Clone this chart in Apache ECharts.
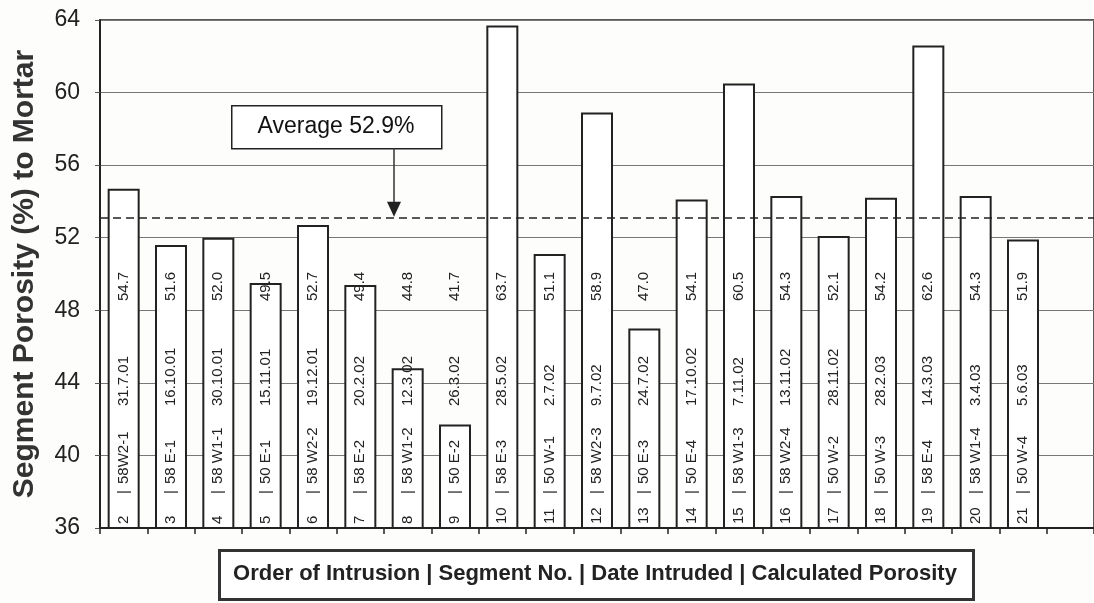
<!DOCTYPE html>
<html>
<head>
<meta charset="utf-8">
<script src="https://cdn.jsdelivr.net/npm/echarts@6/dist/echarts.min.js"></script>
<style>
  html, body { margin: 0; padding: 0; background: #fdfdfb; }
  #chart { width: 1094px; height: 603px; }
</style>
</head>
<body>
<div id="chart"></div>
<script>
const FONT = '"Liberation Sans", Arial, sans-serif';

// order of intrusion, segment, date, porosity (%)
const orders = ['2', '3', '4', '5', '6', '7', '8', '9', '10', '11', '12', '13', '14', '15', '16', '17', '18', '19', '20', '21'];
const segments = ['58W2-1', '58 E-1', '58 W1-1', '50 E-1', '58 W2-2', '58 E-2', '58 W1-2', '50 E-2', '58 E-3', '50 W-1',
  '58 W2-3', '50 E-3', '50 E-4', '58 W1-3', '58 W2-4', '50 W-2', '50 W-3', '58 E-4', '58 W1-4', '50 W-4'];
const dates = ['31.7.01', '16.10.01', '30.10.01', '15.11.01', '19.12.01', '20.2.02', '12.3.02', '26.3.02', '28.5.02', '2.7.02',
  '9.7.02', '24.7.02', '17.10.02', '7.11.02', '13.11.02', '28.11.02', '28.2.03', '14.3.03', '3.4.03', '5.6.03'];
const porosity = [54.7, 51.6, 52.0, 49.5, 52.7, 49.4, 44.8, 41.7, 63.7, 51.1,
  58.9, 47.0, 54.1, 60.5, 54.3, 52.1, 54.2, 62.6, 54.3, 51.9];

const yMin = 36, yMax = 64, yStep = 4;
const averageText = 'Average 52.9%';
const averageLevel = 53.1; // where the dashed line sits on the chart
const legendText = 'Order of Intrusion | Segment No. | Date Intruded | Calculated Porosity';

// one empty slot at the right end, as in the original sheet
const categories = orders.concat(['']);

const chart = echarts.init(document.getElementById('chart'));

const lbl = { fontFamily: FONT, fontSize: 15, color: '#222' };

chart.setOption({
  backgroundColor: '#fdfdfb',
  animation: false,
  grid: {
    left: 100, top: 20, width: 998, bottom: 75,
    show: true, borderColor: '#222', borderWidth: 1.5, backgroundColor: 'transparent'
  },
  xAxis: {
    type: 'category',
    data: categories,
    boundaryGap: true,
    axisLine: { lineStyle: { color: '#222', width: 2 } },
    axisTick: { show: true, length: 6, lineStyle: { color: '#222', width: 1.5 } },
    axisLabel: { show: false },
    splitLine: { show: false }
  },
  yAxis: {
    type: 'value',
    min: yMin, max: yMax, interval: yStep,
    name: 'Segment Porosity (%) to Mortar',
    nameLocation: 'middle',
    nameGap: 60,
    nameTextStyle: { fontFamily: FONT, fontSize: 30, fontWeight: 'bold', color: '#333' },
    axisLine: { show: true, lineStyle: { color: '#222', width: 2 } },
    axisTick: { show: true, length: 5, lineStyle: { color: '#555' } },
    axisLabel: { fontFamily: FONT, fontSize: 23, color: '#222', margin: 20 },
    splitLine: { lineStyle: { color: '#777', width: 1 } }
  },
  series: [{
    type: 'bar',
    data: porosity,
    barWidth: 32,
    itemStyle: { color: '#fff', borderColor: '#222', borderWidth: 2 },
    label: {
      show: true,
      position: 'insideBottom',
      distance: 5,
      rotate: 90,
      align: 'left',
      verticalAlign: 'middle',
      ...lbl,
      formatter: p => {
        const i = p.dataIndex;
        return `{o|${orders[i]}}{p||}{s|${segments[i]}}{d|${dates[i]}}{v|${porosity[i].toFixed(1)}}`;
      },
      rich: {
        o: { width: 30, ...lbl },
        p: { width: 10, ...lbl },
        s: { width: 78, ...lbl },
        d: { width: 105, ...lbl },
        v: { ...lbl }
      }
    },
    markLine: {
      silent: true,
      symbol: 'none',
      label: { show: false },
      lineStyle: { color: '#222', type: [8, 5], width: 1.5 },
      data: [{ yAxis: averageLevel }]
    }
  }]
});

// annotation box + arrow pointing at the average line, and the key box below
const tipY = chart.convertToPixel({ yAxisIndex: 0 }, averageLevel);
const arrowX = 394;
chart.setOption({
  graphic: [
    {
      type: 'rect', left: 231, top: 105, z: 10,
      shape: { width: 210, height: 43 },
      style: { fill: '#fff', stroke: '#222', lineWidth: 1.5 }
    },
    {
      type: 'text', x: 336, y: 127, z: 11,
      style: { text: averageText, font: '23px ' + FONT, fill: '#111', align: 'center', verticalAlign: 'middle' }
    },
    {
      type: 'line', z: 10,
      shape: { x1: arrowX, y1: 148, x2: arrowX, y2: tipY - 14 },
      style: { stroke: '#333', lineWidth: 1.5 }
    },
    {
      type: 'polygon', z: 10,
      shape: { points: [[arrowX - 7, tipY - 16], [arrowX + 7, tipY - 16], [arrowX, tipY - 1]] },
      style: { fill: '#222' }
    },
    {
      type: 'rect', left: 218, top: 549, z: 10,
      shape: { width: 754, height: 49 },
      style: { fill: '#fff', stroke: '#333', lineWidth: 3 }
    },
    {
      type: 'text', x: 595, y: 574, z: 11,
      style: { text: legendText, font: 'bold 22px ' + FONT, fill: '#222', align: 'center', verticalAlign: 'middle' }
    }
  ]
});
</script>
</body>
</html>
